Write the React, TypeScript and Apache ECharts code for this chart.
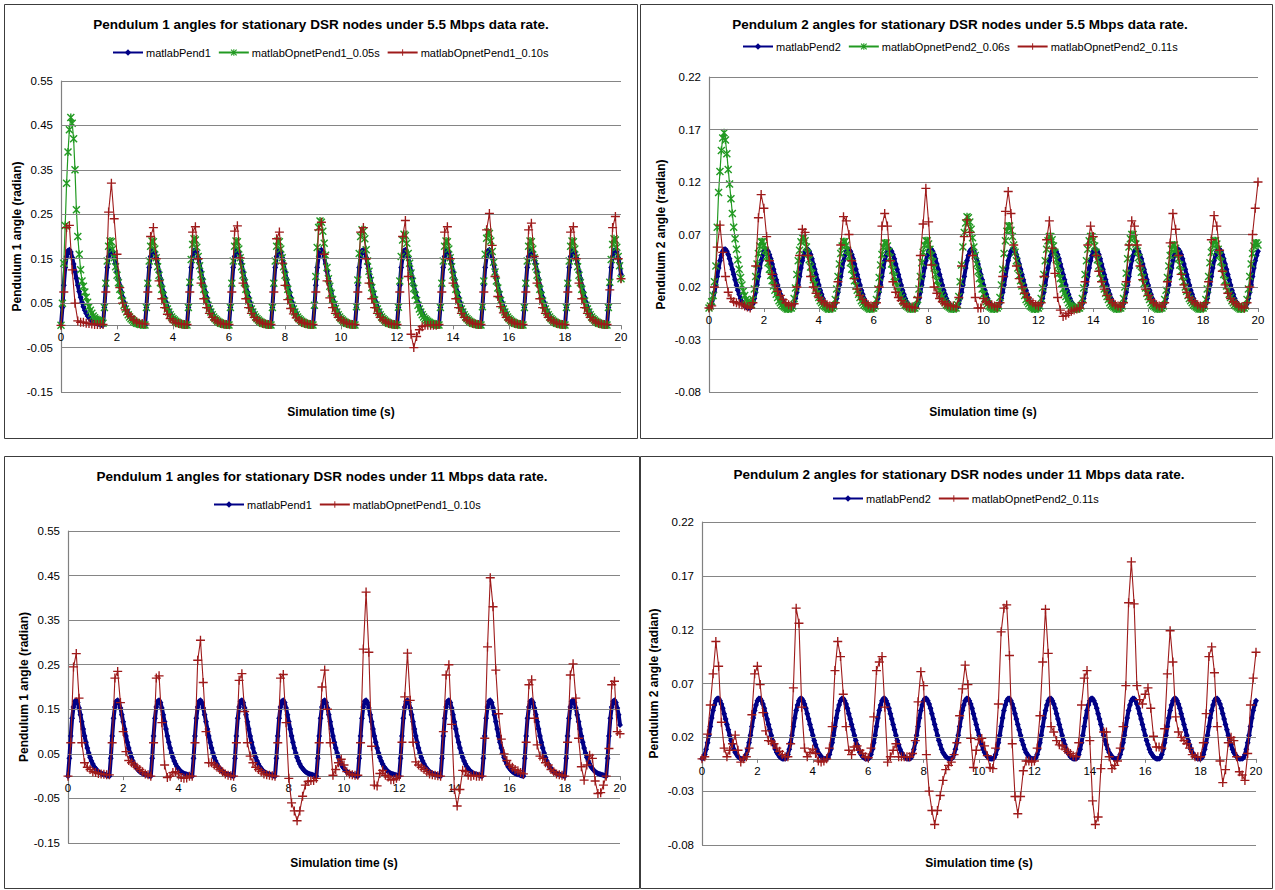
import React, { useEffect, useRef } from "react";
import * as echarts from "echarts";

const FONT = 'Arial, "Liberation Sans", sans-serif';

// Sampling steps (s)
const STEP_FINE = 0.05;
const STEP_COARSE = 0.1;

// Panel titles & names
const TITLES = [
  "Pendulum 1 angles for stationary DSR nodes under 5.5 Mbps data rate.",
  "Pendulum 2 angles for stationary DSR nodes under 5.5 Mbps data rate.",
  "Pendulum 1 angles for stationary DSR nodes under 11 Mbps data rate.",
  "Pendulum 2 angles for stationary DSR nodes under 11 Mbps data rate.",
];
const Y_NAMES = [
  "Pendulum 1 angle (radian)",
  "Pendulum 2 angle (radian)",
  "Pendulum 1 angle (radian)",
  "Pendulum 2 angle (radian)",
];
const X_NAME = "Simulation time (s)";

// Y tick labels (gridlines)
const Y_TICKS_P1 = [-0.15, -0.05, 0.05, 0.15, 0.25, 0.35, 0.45, 0.55];
const Y_TICKS_P2 = [-0.08, -0.03, 0.02, 0.07, 0.12, 0.17, 0.22];
const X_TICKS = [0, 2, 4, 6, 8, 10, 12, 14, 16, 18, 20];

// Values in thousandths of a radian, one row per 1.5 s cycle
// matlabPend1, every 0.05 s
const matlabPend1 = [
  0,40,90,130,155,168,170,165,153,138,122,106,90,76,63,52,42,34,27,21,17,13,10,8,6,5,4,3,2,1,
  0,40,90,130,155,168,170,165,153,138,122,106,90,76,63,52,42,34,27,21,17,13,10,8,6,5,4,3,2,1,
  0,40,90,130,155,168,170,165,153,138,122,106,90,76,63,52,42,34,27,21,17,13,10,8,6,5,4,3,2,1,
  0,40,90,130,155,168,170,165,153,138,122,106,90,76,63,52,42,34,27,21,17,13,10,8,6,5,4,3,2,1,
  0,40,90,130,155,168,170,165,153,138,122,106,90,76,63,52,42,34,27,21,17,13,10,8,6,5,4,3,2,1,
  0,40,90,130,155,168,170,165,153,138,122,106,90,76,63,52,42,34,27,21,17,13,10,8,6,5,4,3,2,1,
  0,40,90,130,155,168,170,165,153,138,122,106,90,76,63,52,42,34,27,21,17,13,10,8,6,5,4,3,2,1,
  0,40,90,130,155,168,170,165,153,138,122,106,90,76,63,52,42,34,27,21,17,13,10,8,6,5,4,3,2,1,
  0,40,90,130,155,168,170,165,153,138,122,106,90,76,63,52,42,34,27,21,17,13,10,8,6,5,4,3,2,1,
  0,40,90,130,155,168,170,165,153,138,122,106,90,76,63,52,42,34,27,21,17,13,10,8,6,5,4,3,2,1,
  0,40,90,130,155,168,170,165,153,138,122,106,90,76,63,52,42,34,27,21,17,13,10,8,6,5,4,3,2,1,
  0,40,90,130,155,168,170,165,153,138,122,106,90,76,63,52,42,34,27,21,17,13,10,8,6,5,4,3,2,1,
  0,40,90,130,155,168,170,165,153,138,122,106,90,76,63,52,42,34,27,21,17,13,10,8,6,5,4,3,2,1,
  0,40,90,130,155,168,170,165,153,138,115,
];

// matlabPend2, every 0.05 s
const matlabPend2 = [
  0,1,4,9,15,22,30,38,45,50,54,56,56,54,51,47,42,37,32,27,22,17,13,9,6,4,2,1,0,0,
  0,1,4,9,15,22,30,38,45,50,54,56,56,54,51,47,42,37,32,27,22,17,13,9,6,4,2,1,0,0,
  0,1,4,9,15,22,30,38,45,50,54,56,56,54,51,47,42,37,32,27,22,17,13,9,6,4,2,1,0,0,
  0,1,4,9,15,22,30,38,45,50,54,56,56,54,51,47,42,37,32,27,22,17,13,9,6,4,2,1,0,0,
  0,1,4,9,15,22,30,38,45,50,54,56,56,54,51,47,42,37,32,27,22,17,13,9,6,4,2,1,0,0,
  0,1,4,9,15,22,30,38,45,50,54,56,56,54,51,47,42,37,32,27,22,17,13,9,6,4,2,1,0,0,
  0,1,4,9,15,22,30,38,45,50,54,56,56,54,51,47,42,37,32,27,22,17,13,9,6,4,2,1,0,0,
  0,1,4,9,15,22,30,38,45,50,54,56,56,54,51,47,42,37,32,27,22,17,13,9,6,4,2,1,0,0,
  0,1,4,9,15,22,30,38,45,50,54,56,56,54,51,47,42,37,32,27,22,17,13,9,6,4,2,1,0,0,
  0,1,4,9,15,22,30,38,45,50,54,56,56,54,51,47,42,37,32,27,22,17,13,9,6,4,2,1,0,0,
  0,1,4,9,15,22,30,38,45,50,54,56,56,54,51,47,42,37,32,27,22,17,13,9,6,4,2,1,0,0,
  0,1,4,9,15,22,30,38,45,50,54,56,56,54,51,47,42,37,32,27,22,17,13,9,6,4,2,1,0,0,
  0,1,4,9,15,22,30,38,45,50,54,56,56,54,51,47,42,37,32,27,22,17,13,9,6,4,2,1,0,0,
  0,1,4,9,15,22,30,38,45,50,54,
];

// matlabOpnetPend1_0.05s (5.5 Mbps), every 0.05 s
const opnetPend1_005 = [
  0,50,140,225,320,390,440,468,455,420,350,260,200,160,125,100,88,75,63,52,42,34,27,21,17,14,12,10,9,9,
  5,40,95,145,178,190,188,172,152,132,113,96,81,67,55,45,37,30,24,19,15,12,9,7,5,4,3,2,2,1,
  1,40,95,145,178,190,188,172,152,132,113,96,81,67,55,45,37,30,24,19,15,12,9,7,5,4,3,2,2,1,
  1,40,97,148,182,195,192,176,155,134,114,97,81,67,55,45,37,30,24,19,15,12,9,7,5,4,3,2,2,1,
  1,40,95,145,178,190,188,172,152,132,113,96,81,67,55,45,37,30,24,19,15,12,9,7,5,4,3,2,2,1,
  1,40,95,145,178,190,188,172,152,132,113,96,81,67,55,45,37,30,24,19,15,12,9,7,5,4,3,2,2,1,
  1,45,110,175,220,235,232,212,185,158,130,105,88,72,58,47,38,30,24,19,15,12,9,7,5,4,3,2,2,1,
  1,42,102,162,200,215,212,195,170,145,122,101,85,70,57,46,37,30,24,19,15,12,9,7,5,4,3,2,2,1,
  1,41,100,155,192,205,202,185,162,140,118,99,83,68,56,45,37,30,24,19,15,12,9,7,5,4,3,2,2,1,
  1,40,95,145,178,190,188,172,152,132,113,96,81,67,55,45,37,30,24,19,15,12,9,7,5,4,3,2,2,1,
  1,42,100,160,196,210,207,190,166,142,120,100,84,69,56,46,37,30,24,19,15,12,9,7,5,4,3,2,2,1,
  1,40,95,145,178,190,188,172,152,132,113,96,81,67,55,45,37,30,24,19,15,12,9,7,5,4,3,2,2,1,
  1,40,95,145,178,190,188,172,152,132,113,96,81,67,55,45,37,30,24,19,15,12,9,7,5,4,3,2,2,1,
  1,40,97,148,182,195,192,176,155,134,105,
];

// matlabOpnetPend2_0.06s (5.5 Mbps), every 0.05 s
const opnetPend2_006 = [
  0,2,6,12,25,40,77,110,130,150,162,167,160,147,132,118,104,90,77,66,56,46,37,29,22,16,12,8,6,5,
  4,3,8,18,30,42,52,59,63,63,60,55,49,43,37,31,26,21,17,13,10,7,5,3,2,1,0,-1,-1,0,
  0,2,9,19,32,45,55,63,67,67,64,58,52,46,39,33,27,22,18,14,10,7,5,3,2,1,0,-1,-1,0,
  0,2,8,18,30,42,52,59,63,63,60,55,49,43,37,31,26,21,17,13,10,7,5,3,2,1,0,-1,-1,0,
  0,2,8,18,29,41,51,58,62,62,59,54,48,42,36,30,25,21,17,13,10,7,5,3,2,1,0,-1,-1,0,
  0,2,8,18,30,43,53,60,64,64,61,56,50,44,38,32,26,21,17,13,10,7,5,3,2,1,0,-1,-1,0,
  0,3,11,25,41,58,72,81,87,86,82,75,67,58,50,42,35,28,23,18,13,9,6,4,2,1,0,-1,-1,0,
  0,2,10,22,37,52,64,73,78,78,74,68,60,53,45,38,31,26,21,16,12,8,6,4,2,1,0,-1,-1,0,
  0,2,9,19,32,45,56,64,68,68,65,59,53,46,40,33,28,23,18,14,11,8,5,3,2,1,0,-1,-1,0,
  0,2,9,19,32,45,56,64,68,68,65,59,53,46,40,33,28,23,18,14,11,8,5,3,2,1,0,-1,-1,0,
  0,2,9,20,33,47,58,66,70,70,67,61,54,48,41,34,29,23,19,14,11,8,5,3,2,1,0,-1,-1,0,
  0,2,8,17,29,40,50,56,60,60,57,52,47,41,35,30,25,20,16,12,9,7,5,3,2,1,0,-1,-1,0,
  0,2,8,18,30,43,53,60,64,64,61,56,50,44,38,32,26,21,17,13,10,7,5,3,2,1,0,-1,-1,0,
  0,2,8,18,30,42,52,59,62,62,60,
];

// matlabOpnetPend1_0.10s (5.5 Mbps), every 0.1 s
const opnetPend1_010_55 = [
  0,75,220,225,125,50,10,7,7,5,4,3,2,2,2,
  2,75,255,320,240,160,85,50,35,25,20,12,8,5,4,
  3,75,200,220,150,100,60,40,25,15,10,6,4,3,2,
  2,75,210,222,150,95,60,40,27,18,12,8,5,3,2,
  2,75,212,224,152,95,60,40,27,18,12,8,5,3,2,
  2,75,195,210,140,90,58,38,26,17,11,7,5,3,2,
  2,75,215,232,160,100,62,40,27,18,12,8,5,3,2,
  2,75,210,220,150,95,60,40,27,18,12,8,5,3,2,
  2,75,200,236,110,-20,-50,-25,-10,-3,0,0,0,0,0,
  2,75,210,222,150,95,60,40,27,18,12,8,5,3,2,
  2,75,215,252,180,110,65,42,28,18,12,8,5,3,2,
  2,75,215,230,155,95,60,40,27,18,12,8,5,3,2,
  2,75,210,222,150,95,60,40,27,18,12,8,5,3,2,
  2,80,220,245,150,105,
];

// matlabOpnetPend2_0.11s (5.5 Mbps), every 0.1 s
const opnetPend2_011_55 = [
  0,2,20,58,79,53,30,15,9,6,5,4,3,2,1,
  0,5,40,86,108,95,68,45,32,22,16,12,8,5,3,
  2,4,20,50,75,72,50,30,20,14,10,7,5,3,2,
  1,5,25,60,87,83,70,45,28,18,12,8,5,3,2,
  1,5,20,78,90,78,45,25,15,10,7,4,2,1,1,
  0,10,50,80,114,82,41,20,14,9,6,4,3,2,2,
  1,10,40,68,84,72,50,10,0,0,9,6,4,3,2,
  1,5,30,92,111,90,60,40,28,20,14,10,7,5,3,
  2,5,30,65,83,57,33,10,-2,-8,-7,-5,-3,-2,-1,
  0,5,25,60,78,68,50,35,25,18,12,8,5,3,2,
  1,5,25,60,83,78,60,40,27,18,12,8,5,3,2,
  1,5,25,62,90,75,50,32,22,15,10,7,5,3,2,
  1,5,25,65,88,78,55,35,22,14,9,6,4,2,1,
  0,5,20,70,95,120,
];

// matlabOpnetPend1_0.10s (11 Mbps), every 0.1 s
const opnetPend1_010_11 = [
  0,75,245,275,175,75,30,20,15,10,8,6,5,4,3,
  3,75,220,235,165,100,55,35,30,25,20,15,10,5,3,
  0,75,220,225,120,25,-3,0,8,10,5,-3,-5,-4,0,
  0,75,260,305,210,100,30,30,25,20,15,10,5,2,1,
  0,75,215,230,145,75,45,30,20,15,10,5,3,2,1,
  0,75,220,228,120,-5,-60,-78,-100,-78,-45,-20,-12,-10,-10,
  -5,75,200,238,150,75,2,15,30,38,25,10,5,3,2,
  2,75,285,413,278,67,-20,-22,6,13,2,-2,-8,-8,-5,
  0,76,178,276,170,76,32,25,20,15,10,5,3,2,1,
  0,100,227,250,116,-30,-67,-30,13,10,2,0,2,0,0,
  0,85,290,445,380,238,140,83,50,35,25,20,15,12,8,
  5,76,205,216,130,70,45,40,30,25,15,10,5,3,2,
  0,76,227,252,175,85,21,-9,25,47,40,-11,-39,-37,-20,
  0,62,205,213,100,95,
];

// matlabOpnetPend2_0.11s (11 Mbps), every 0.1 s
const opnetPend2_011_11 = [
  0,2,23,50,79,109,86,34,10,2,8,14,22,8,-3,
  0,2,10,41,79,86,69,43,26,17,16,14,10,7,4,
  2,2,14,66,140,126,48,10,2,6,9,5,-2,-3,-2,
  0,10,30,82,109,95,60,30,8,4,11,12,8,5,2,
  1,10,39,82,90,95,48,-3,2,8,14,2,2,2,2,
  2,5,17,53,81,68,4,-30,-48,-61,-48,-34,-20,-10,-6,
  -3,4,15,40,65,87,69,19,-8,8,18,19,12,3,-8,
  -9,10,51,118,140,143,96,14,-35,-51,-35,-11,-2,-2,-3,
  -2,10,40,90,139,98,30,25,17,13,12,9,7,5,3,
  2,15,50,75,82,17,-39,-61,-54,-9,25,25,2,-9,-6,
  -2,10,30,68,145,183,144,68,55,51,60,66,47,21,11,
  11,10,28,79,119,90,39,25,20,17,14,10,4,2,2,
  2,15,42,95,104,80,30,-2,-22,-10,15,20,17,2,-12,
  -15,-20,5,50,75,99,
];

const COLOR_BLUE = "#000086";
const COLOR_GREEN = "#229a22";
const COLOR_RED = "#9e1a1a";
const COLOR_GRID = "#858585";

const PLUS = "path://M3.4,0H4.6V3.4H8V4.6H4.6V8H3.4V4.6H0V3.4H3.4Z";
const ASTER =
  "path://M3.3,0H4.7V8H3.3Z M0,1L1,0L8,7L7,8Z M7,0L8,1L1,8L0,7Z";

const toPairs = (vals: number[], step: number) =>
  vals.map((v, i) => [Math.round(i * step * 100) / 100, v / 1000]);

type Panel = {
  grid: { left: number; top: number; width: number; height: number };
  title: [number, number];
  legendPos: [number, number];
  xName: [number, number];
  yGap: number;
  yTicks: number[];
  yMin: number;
  yMax: number;
  yStep: number;
};

const PANELS: Panel[] = [
  { grid: { left: 61, top: 81, width: 560, height: 311 }, title: [321, 17], legendPos: [112, 47], xName: [341, 412], yGap: 36, yTicks: Y_TICKS_P1, yMin: -0.15, yMax: 0.55, yStep: 0.05 },
  { grid: { left: 709, top: 77, width: 549, height: 315 }, title: [960, 17], legendPos: [742, 41], xName: [983, 412], yGap: 42, yTicks: Y_TICKS_P2, yMin: -0.08, yMax: 0.22, yStep: 0.01 },
  { grid: { left: 68, top: 531, width: 552, height: 312 }, title: [322, 469], legendPos: [213, 499], xName: [344, 863], yGap: 38, yTicks: Y_TICKS_P1, yMin: -0.15, yMax: 0.55, yStep: 0.05 },
  { grid: { left: 702, top: 522, width: 554, height: 323 }, title: [959, 467], legendPos: [832, 493], xName: [979, 863], yGap: 42, yTicks: Y_TICKS_P2, yMin: -0.08, yMax: 0.22, yStep: 0.01 },
];

const BORDERS = [
  [4, 4, 633, 434],
  [640, 4, 632, 434],
  [4, 456, 635, 432],
  [640, 456, 632, 432],
];

const LEGENDS = [
  ["matlabPend1", "matlabOpnetPend1_0.05s", "matlabOpnetPend1_0.10s"],
  ["matlabPend2", "matlabOpnetPend2_0.06s", "matlabOpnetPend2_0.11s"],
  ["matlabPend1", "matlabOpnetPend1_0.10s"],
  ["matlabPend2", "matlabOpnetPend2_0.11s"],
];

function blueSeries(name: string, vals: number[], idx: number) {
  return {
    type: "line",
    name,
    xAxisIndex: idx,
    yAxisIndex: idx,
    data: toPairs(vals, STEP_FINE),
    symbol: "diamond",
    symbolSize: 6,
    lineStyle: { color: COLOR_BLUE, width: 4 },
    itemStyle: { color: COLOR_BLUE, borderWidth: 0 },
    z: 3,
  };
}
function greenSeries(name: string, vals: number[], idx: number) {
  return {
    type: "line",
    name,
    xAxisIndex: idx,
    yAxisIndex: idx,
    data: toPairs(vals, STEP_FINE),
    symbol: ASTER,
    symbolSize: 8,
    lineStyle: { color: COLOR_GREEN, width: 1.2 },
    itemStyle: { color: COLOR_GREEN, borderWidth: 0 },
    z: 4,
  };
}
function redSeries(name: string, vals: number[], idx: number) {
  return {
    type: "line",
    name,
    xAxisIndex: idx,
    yAxisIndex: idx,
    data: toPairs(vals, STEP_COARSE),
    symbol: PLUS,
    symbolSize: 9,
    lineStyle: { color: COLOR_RED, width: 1.1 },
    itemStyle: { color: COLOR_RED, borderWidth: 0 },
    z: 5,
  };
}
function gridLines(idx: number, ticks: number[]) {
  return {
    type: "line",
    name: "grid" + idx,
    xAxisIndex: idx,
    yAxisIndex: idx,
    data: [],
    z: 1,
    markLine: {
      silent: true,
      symbol: ["none", "none"],
      label: { show: false },
      lineStyle: { color: COLOR_GRID, width: 1.2, type: "solid" },
      animation: false,
      data: ticks.map((v) => ({ yAxis: v })),
    },
  };
}

function labelFmt(mode: number) {
  return (v: number) => {
    const n = Math.round(v * 100);
    if (mode === 1) return Math.abs(n) % 10 === 5 ? v.toFixed(2) : "";
    return ((n % 5) + 5) % 5 === 2 ? v.toFixed(2) : "";
  };
}

export default function App() {
  const ref = useRef<HTMLDivElement>(null);
  useEffect(() => {
    if (!ref.current) return;
    const chart = echarts.init(ref.current, null, { renderer: "svg" });
    const option: any = {
      animation: false,
      backgroundColor: "#ffffff",
      title: PANELS.map((p, i) => ({
        text: TITLES[i],
        left: p.title[0],
        top: p.title[1],
        textAlign: "center",
        padding: 0,
        textStyle: { fontSize: 13.5, fontWeight: "bold", fontFamily: FONT, color: "#000" },
      })),
      legend: PANELS.map((p, i) => ({
        left: p.legendPos[0],
        top: p.legendPos[1],
        padding: 0,
        itemWidth: 30,
        itemHeight: 8,
        itemGap: 7,
        data: LEGENDS[i],
        textStyle: { fontSize: 11, fontFamily: FONT, color: "#000", padding: [0, 0, 0, -2] },
      })),
      grid: PANELS.map((p) => ({ ...p.grid, containLabel: false })),
      xAxis: PANELS.map((p, i) => ({
        type: "value",
        gridIndex: i,
        position: "bottom",
        // move the axis (line, ticks, labels) up to the y = 0 level
        offset: -(p.grid.height * (0 - p.yMin)) / (p.yMax - p.yMin),
        min: X_TICKS[0],
        max: X_TICKS[X_TICKS.length - 1],
        interval: 2,
        axisLine: { onZero: false, lineStyle: { color: "#808080", width: 1.2 } },
        axisTick: { show: true, length: 4, lineStyle: { color: "#808080" } },
        axisLabel: { fontSize: 11.5, fontFamily: FONT, color: "#000", margin: 6 },
        splitLine: { show: false },
      })),
      yAxis: PANELS.map((p, i) => ({
        type: "value",
        gridIndex: i,
        min: p.yMin,
        max: p.yMax,
        interval: p.yStep,
        name: Y_NAMES[i],
        nameLocation: "middle",
        nameGap: p.yGap,
        nameTextStyle: { fontSize: 12, fontWeight: "bold", fontFamily: FONT, color: "#000" },
        axisLine: { show: true, onZero: false, lineStyle: { color: "#808080", width: 1.2 } },
        axisTick: { show: false },
        axisLabel: {
          fontSize: 11.5,
          fontFamily: FONT,
          color: "#000",
          margin: 8,
          formatter: labelFmt(p.yStep === 0.05 ? 1 : 2),
        },
        splitLine: { show: false },
      })),
      graphic: [
        ...BORDERS.map((b) => ({
          type: "rect",
          shape: { x: b[0] + 0.5, y: b[1] + 0.5, width: b[2], height: b[3] },
          style: { fill: "none", stroke: "#3c3c3c", lineWidth: 1 },
          silent: true,
        })),
        ...PANELS.map((p) => ({
          type: "text",
          x: p.xName[0],
          y: p.xName[1],
          silent: true,
          style: {
            text: X_NAME,
            font: "bold 12px " + FONT,
            fill: "#000",
            align: "center",
            verticalAlign: "middle",
          },
        })),
      ],
      series: [
        gridLines(0, Y_TICKS_P1),
        gridLines(1, Y_TICKS_P2),
        gridLines(2, Y_TICKS_P1),
        gridLines(3, Y_TICKS_P2),
        blueSeries("matlabPend1", matlabPend1, 0),
        greenSeries("matlabOpnetPend1_0.05s", opnetPend1_005, 0),
        redSeries("matlabOpnetPend1_0.10s", opnetPend1_010_55, 0),
        blueSeries("matlabPend2", matlabPend2, 1),
        greenSeries("matlabOpnetPend2_0.06s", opnetPend2_006, 1),
        redSeries("matlabOpnetPend2_0.11s", opnetPend2_011_55, 1),
        blueSeries("matlabPend1", matlabPend1, 2),
        redSeries("matlabOpnetPend1_0.10s", opnetPend1_010_11, 2),
        blueSeries("matlabPend2", matlabPend2, 3),
        redSeries("matlabOpnetPend2_0.11s", opnetPend2_011_11, 3),
      ],
    };
    chart.setOption(option);
    return () => chart.dispose();
  }, []);
  return (
    <div
      ref={ref}
      style={{ position: "absolute", left: 0, top: 0, width: 1275, height: 890, background: "#fff" }}
    />
  );
}
